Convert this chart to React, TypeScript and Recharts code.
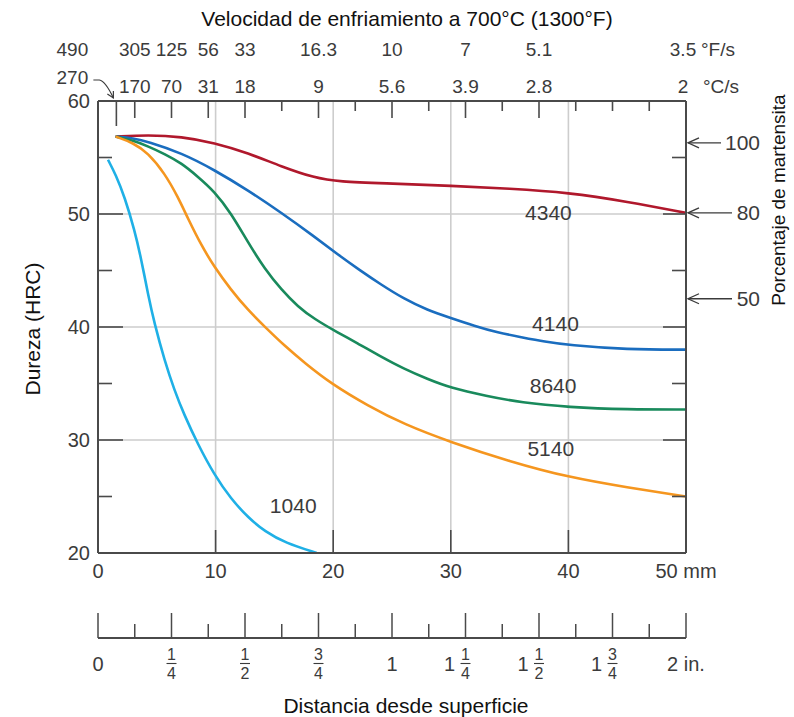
import { LineChart, Line, XAxis, YAxis, ReferenceLine, ReferenceDot, Label } from 'recharts'

const FONT = '"Liberation Sans", Arial, sans-serif'
const INK = '#3b3b3b'
const FRAME = '#4a4a4a'
const GRID = '#cdcdcd'

// Jominy curves: [distance from quenched end (mm), hardness (HRC)]
const D4340: [number, number][] = [
  [1.5, 56.85], [4.25, 57.0], [7.1, 56.85], [9.9, 56.3], [12.75, 55.4], [15.6, 54.2], [18.4, 53.2],
  [20.4, 52.85], [25, 52.7], [30, 52.5], [35, 52.25], [40, 51.9], [45, 51.1], [50, 50.1],
]
const D4140: [number, number][] = [
  [1.5, 56.85], [3, 56.7], [4.25, 56.4], [7.1, 55.4], [9.9, 53.9], [12.75, 52.1], [15.6, 50.1], [18.4, 48.0],
  [20.4, 46.4], [22.3, 45.0], [24, 43.8], [26, 42.5], [28, 41.5], [30, 40.8], [32, 40.1], [34, 39.5],
  [36, 39.1], [38, 38.7], [40, 38.4], [45, 38.0], [50, 38.0],
]
const D8640: [number, number][] = [
  [1.5, 56.85], [3, 56.5], [4.25, 56.0], [5.7, 55.3], [7.1, 54.5], [8.5, 53.3], [9.9, 52.0], [11.3, 50.1],
  [12.75, 47.5], [14.2, 45.1], [15.6, 43.3], [17, 41.8], [18.4, 40.7], [20.4, 39.5], [22, 38.6], [24, 37.4],
  [26, 36.3], [28, 35.4], [30, 34.6], [33, 33.9], [36, 33.3], [40, 32.9], [45, 32.7], [50, 32.7],
]
const D5140: [number, number][] = [
  [1.5, 56.85], [3, 56.3], [4.25, 55.4], [5.67, 53.6], [6.8, 51.5], [7.65, 49.6], [8.8, 47.2], [9.9, 45.3],
  [11.3, 43.3], [12.75, 41.5], [14.2, 40.0], [15.9, 38.3], [17.6, 36.8], [19.8, 35.0], [23, 33.0], [26, 31.4],
  [30, 29.8], [35, 28.1], [40, 26.7], [45, 25.8], [50, 25.0],
]
const D1040: [number, number][] = [
  [0.85, 54.8], [1.5, 53.5], [2.27, 51.5], [3.1, 48.6], [3.7, 45.9], [4.25, 42.9], [4.8, 40.3], [5.67, 37.0],
  [6.5, 34.4], [7.3, 32.3], [8.5, 29.6], [9.9, 26.9], [11.3, 24.8], [12.8, 23.1], [14.2, 21.9], [15.9, 20.9],
  [18.6, 20.0],
]

const STEELS = ['4340', '4140', '8640', '5140', '1040']
const COLORS = ['#b0182c', '#1a6dbf', '#198a5c', '#f5961f', '#1fb0e6']
const CURVES = [D4340, D4140, D8640, D5140, D1040]
// where each steel name sits, [mm, HRC]
const TAGS: [number, number][] = [[38.3, 50.1], [38.9, 40.35], [38.7, 34.8], [38.5, 29.2], [16.6, 24.2]]

const MM_TICKS = [0, 10, 20, 30, 40, 50]
const HRC_TICKS = [20, 25, 30, 35, 40, 45, 50, 55, 60]
const GRID_MM = [10, 20, 30, 40]
const GRID_HRC = [30, 40, 50]

const INCH_TICKS = [0, 0.125, 0.25, 0.375, 0.5, 0.625, 0.75, 0.875, 1, 1.125, 1.25, 1.375, 1.5, 1.625, 1.75, 1.875, 2]
const INCH_WHOLE = ['0', '', '', '', '', '', '', '', '1', '', '1', '', '1', '', '1', '', '2 in.']
const INCH_FRAC = ['', '', '1/4', '', '1/2', '', '3/4', '', '', '', '1/4', '', '1/2', '', '3/4', '', '']

// cooling rate scale sits on Jominy positions (inches)
const TOP_TICKS = [0.0625, 0.125, 0.25, 0.375, 0.5, 0.625, 0.75, 0.875, 1, 1.125, 1.25, 1.375, 1.5, 1.625, 1.75, 1.875, 2]
const RATE_F = ['490', '305', '125', '56', '33', '', '16.3', '', '10', '', '7', '', '5.1', '', '', '', '3.5']
const RATE_C = ['270', '170', '70', '31', '18', '', '9', '', '5.6', '', '3.9', '', '2.8', '', '', '', '2']

const RIGHT_TICKS = [25, 30, 35, 40, 45, 50, 55]
const MART_HRC = [56.3, 50.1, 42.5]
const MART_PCT = ['100', '80', '50']

// the inch scales have no series of their own, so the chart rows carry their positions
const inchRows = TOP_TICKS.concat(INCH_TICKS).map((inch) => ({ inch }))

const txt = { fontFamily: FONT, fill: INK }

function LeftTick(props: any) {
  const { x, y, payload } = props
  const v = payload.value
  const major = v % 10 === 0
  return (
    <g>
      {v > 20 && v < 60 && <line x1={x} x2={x + (major ? 25 : 14)} y1={y} y2={y} stroke={FRAME} strokeWidth={1.6} />}
      {major && (
        <text x={x - 8} y={y} textAnchor="end" dominantBaseline="central" fontSize={20} {...txt}>
          {v}
        </text>
      )}
    </g>
  )
}

function RightTick(props: any) {
  const { x, y, payload } = props
  const v = payload.value
  const m = MART_HRC.indexOf(v)
  if (m >= 0) {
    const pct = MART_PCT[m]
    const end = x + 74
    const lineEnd = end - pct.length * 11 - 6
    return (
      <g>
        <line x1={x + 2} x2={lineEnd} y1={y} y2={y} stroke={INK} strokeWidth={1.3} />
        <path d={`M${x + 13},${y - 5} L${x + 2},${y} L${x + 13},${y + 5}`} fill="none" stroke={INK} strokeWidth={1.3} />
        <text x={end} y={y} textAnchor="end" dominantBaseline="central" fontSize={21} {...txt}>
          {pct}
        </text>
      </g>
    )
  }
  const major = v % 10 === 0
  return <line x1={x} x2={x - (major ? 23 : 14)} y1={y} y2={y} stroke={FRAME} strokeWidth={1.6} />
}

function MmTick(props: any) {
  const { x, y, payload } = props
  const v = payload.value
  return (
    <g>
      {v > 0 && v < 50 && <line x1={x} x2={x} y1={y} y2={y - 23} stroke={FRAME} strokeWidth={1.6} />}
      <text x={x} y={y + 18} textAnchor="middle" dominantBaseline="central" fontSize={20} {...txt}>
        {v === 50 ? '50 mm' : v}
      </text>
    </g>
  )
}

function InchTick(props: any) {
  const { x, y, payload } = props
  const i = INCH_TICKS.indexOf(payload.value)
  const major = i % 2 === 0
  const whole = INCH_WHOLE[i]
  const frac = INCH_FRAC[i]
  const [num, den] = frac ? frac.split('/') : ['', '']
  return (
    <g>
      <line x1={x} x2={x} y1={y} y2={y - (major ? 25 : 14)} stroke={FRAME} strokeWidth={1.5} />
      {whole && (
        <text x={frac ? x - 16 : x} y={y + 26} textAnchor="middle" dominantBaseline="central" fontSize={20} {...txt}>
          {whole}
        </text>
      )}
      {frac && (
        <g>
          <text x={x} y={y + 16} textAnchor="middle" dominantBaseline="central" fontSize={16} {...txt}>{num}</text>
          <line x1={x - 5} x2={x + 5} y1={y + 25.5} y2={y + 25.5} stroke={INK} strokeWidth={1.1} />
          <text x={x} y={y + 35} textAnchor="middle" dominantBaseline="central" fontSize={16} {...txt}>{den}</text>
        </g>
      )}
    </g>
  )
}

function TopTick(props: any) {
  const { x, y, payload } = props
  const i = TOP_TICKS.indexOf(payload.value)
  const f = RATE_F[i]
  const c = RATE_C[i]
  const len = i === 0 ? 25 : f ? 17 : 10
  const first = i === 0
  const last = i === TOP_TICKS.length - 1
  const lx = first ? x - 44 : last ? x - 3 : x
  return (
    <g>
      {!last && <line x1={x} x2={x} y1={y} y2={y + len} stroke={FRAME} strokeWidth={1.6} />}
      {f && <text x={lx} y={y - 52} textAnchor="middle" dominantBaseline="central" fontSize={19} {...txt}>{f}</text>}
      {c && <text x={lx} y={first ? y - 24 : y - 15} textAnchor="middle" dominantBaseline="central" fontSize={19} {...txt}>{c}</text>}
      {first && (
        <g fill="none" stroke={INK} strokeWidth={1.2}>
          <path d={`M${x - 23},${y - 21} L${x - 17},${y - 21} Q${x - 11},${y - 20} ${x - 3},${y - 3}`} />
          <path d={`M${x - 9},${y - 7} L${x - 3},${y - 3} L${x - 3},${y - 10}`} />
        </g>
      )}
      {last && (
        <g>
          <text x={x + 15} y={y - 52} dominantBaseline="central" fontSize={19} {...txt}>°F/s</text>
          <text x={x + 17} y={y - 15} dominantBaseline="central" fontSize={19} {...txt}>°C/s</text>
        </g>
      )}
    </g>
  )
}

export default function App() {
  return (
    <div style={{ position: 'absolute', left: 0, top: 0, background: '#fff' }}>
      <LineChart width={794} height={717} data={inchRows} margin={{ top: 0, right: 0, bottom: 0, left: 0 }}>
        <XAxis
          xAxisId="a_mm" type="number" dataKey="mm" domain={[0, 50]} ticks={MM_TICKS} interval={0}
          height={85} tickSize={0} tickMargin={0} tickLine={false} tick={MmTick}
          axisLine={{ stroke: FRAME, strokeWidth: 2 }} allowDataOverflow
        />
        <XAxis
          xAxisId="b_inch" type="number" dataKey="inch" domain={[0, 2]} ticks={INCH_TICKS} interval={0}
          height={79} tickSize={0} tickMargin={0} tickLine={false} tick={InchTick}
          axisLine={{ stroke: FRAME, strokeWidth: 1.8 }} allowDataOverflow
        >
          <Label
            content={({ viewBox }: any) => (
              <text x={viewBox.x + viewBox.width / 2 + 14} y={viewBox.y + 67} textAnchor="middle" dominantBaseline="central" fontSize={21} {...txt} fill="#111">
                Distancia desde superficie
              </text>
            )}
          />
        </XAxis>
        <XAxis
          xAxisId="c_top" orientation="top" type="number" dataKey="inch" domain={[0, 2]} ticks={TOP_TICKS} interval={0}
          height={101} tickSize={0} tickMargin={0} tickLine={false} tick={TopTick}
          axisLine={{ stroke: FRAME, strokeWidth: 2 }} allowDataOverflow
        >
          <Label
            content={({ viewBox }: any) => (
              <text x={viewBox.x + viewBox.width / 2 + 15} y={viewBox.y + 18} textAnchor="middle" dominantBaseline="central" fontSize={21} {...txt} fill="#111">
                Velocidad de enfriamiento a 700°C (1300°F)
              </text>
            )}
          />
        </XAxis>
        <YAxis
          yAxisId="hrc" type="number" domain={[20, 60]} ticks={HRC_TICKS} interval={0}
          width={98} tickSize={0} tickMargin={0} tickLine={false} tick={LeftTick}
          axisLine={{ stroke: FRAME, strokeWidth: 2 }} allowDataOverflow
        >
          <Label
            content={({ viewBox }: any) => {
              const cx = viewBox.x + 32
              const cy = viewBox.y + viewBox.height / 2 + 2
              return (
                <text x={cx} y={cy} transform={`rotate(-90 ${cx} ${cy})`} textAnchor="middle" dominantBaseline="central" fontSize={21} {...txt} fill="#111">
                  Dureza (HRC)
                </text>
              )
            }}
          />
        </YAxis>
        <YAxis
          yAxisId="right" orientation="right" type="number" domain={[20, 60]} ticks={[...RIGHT_TICKS, ...MART_HRC]} interval={0}
          width={108} tickSize={0} tickMargin={0} tickLine={false} tick={RightTick}
          axisLine={{ stroke: FRAME, strokeWidth: 2 }} allowDataOverflow
        >
          <Label
            content={({ viewBox }: any) => {
              const cx = viewBox.x + 92
              const cy = viewBox.y + 99
              return (
                <text x={cx} y={cy} transform={`rotate(-90 ${cx} ${cy})`} textAnchor="middle" dominantBaseline="central" fontSize={19} {...txt} fill="#111">
                  Porcentaje de martensita
                </text>
              )
            }}
          />
        </YAxis>

        {GRID_MM.map((v) => (
          <ReferenceLine key={`gx${v}`} xAxisId="a_mm" yAxisId="hrc" x={v} stroke={GRID} strokeWidth={1.6} />
        ))}
        {GRID_HRC.map((v) => (
          <ReferenceLine key={`gy${v}`} xAxisId="a_mm" yAxisId="hrc" y={v} stroke={GRID} strokeWidth={1.6} />
        ))}

        {CURVES.map((pts, i) => (
          <Line
            key={STEELS[i]}
            xAxisId="a_mm"
            yAxisId="hrc"
            data={pts.map(([mm, hrc]) => ({ mm, hrc }))}
            dataKey="hrc"
            type="basis"
            stroke={COLORS[i]}
            strokeWidth={2.6}
            dot={false}
            activeDot={false}
            isAnimationActive={false}
          />
        ))}

        {TAGS.map(([mm, hrc], i) => (
          <ReferenceDot
            key={`t${i}`}
            xAxisId="a_mm"
            yAxisId="hrc"
            x={mm}
            y={hrc}
            r={0}
            fill="none"
            stroke="none"
            label={{ value: STEELS[i], position: 'center', fontSize: 21, fill: INK, fontFamily: FONT }}
          />
        ))}
      </LineChart>
    </div>
  )
}
